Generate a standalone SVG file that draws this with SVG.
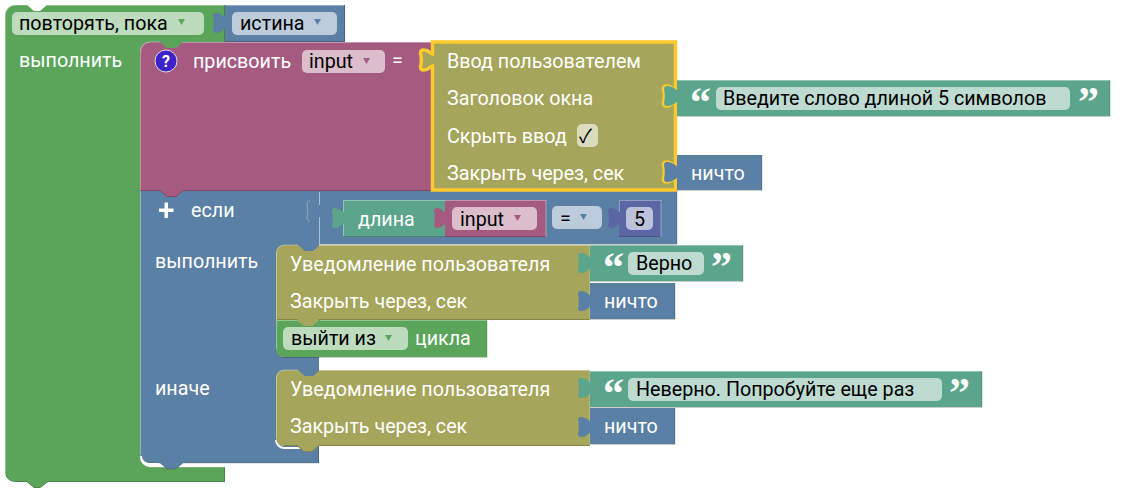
<svg xmlns="http://www.w3.org/2000/svg" width="1125" height="500" viewBox="0 0 1125 500">
<style>
text{font-family:Roboto,"Liberation Sans",sans-serif;font-size:19.700px;fill:#fff}
.f{fill:#000}
.q{font-family:"Liberation Serif",serif;font-weight:bold;font-size:42px}
.g{fill:#5BA55B}.b{fill:#5B80A5}.p{fill:#A55B80}.o{fill:#A5A55B}.t{fill:#5BA58C}.i{fill:#5B67A5}
.fg{fill:#BDDBBD}.fb{fill:#BDCCDB}.fp{fill:#DBBDCC}.ft{fill:#BDDBD1}.fi{fill:#BDC2DB}.fo{fill:#DBDBBD}
.lt{fill:none;stroke:#fff;stroke-opacity:.35;stroke-width:1}
.dk{fill:none;stroke:#000;stroke-opacity:.2;stroke-width:1}
</style>
<g id="repeat-until">
<path class="g" d="M5,15a10,10 0 0 1 10,-10H27l7,6h6l7,-6H225V42H150a10,10 0 0 0 -10,10V457a10,10 0 0 0 10,10H225V482H48l-8,6h-6l-7,-6H15a10,10 0 0 1 -10,-10Z"/>
<path class="lt" d="M5.500,472V15a10,10 0 0 1 10,-10H27M47,5.500H225M140.500,52V457a10,10 0 0 0 10,10H225"/>
<path class="dk" d="M224.500,5V42M224.500,467V481.500H48l-8,6h-6l-7,-6H15a10,10 0 0 1 -9,-6"/>
<rect class="fg" x="12" y="12" width="192" height="23" rx="5"/>
<text class="f" x="19" y="30">повторять, пока</text>
<path class="g" d="M178,19h7l-3.500,6z"/>
<text x="19" y="66.500">выполнить</text>
</g>
<g id="true-value">
<path class="b" d="M225,5H345V42H225V29c-2,0 -3,4 -9,4c-2,0 -3,-1 -3,-3c1,-4 1,-10 0,-14c0,-2 1,-3 3,-3c6,0 7,4 9,4Z"/>
<path class="lt" d="M226,5.500H344"/><path class="dk" d="M344.500,5V41.500H225"/>
<rect class="fb" x="232" y="12" width="105" height="23" rx="5"/>
<text class="f" x="240" y="30">истина</text>
<path class="b" d="M314,19h7l-3.500,6z"/>
</g>
<g id="if-else">
<path class="b" d="M140,191H319V253H276V349a8,8 0 0 0 8,8H319V376H276V438a8,8 0 0 0 8,8H319V463H183l-7,6h-9l-7,-6H148a8,8 0 0 1 -8,-8Z"/>
<path class="lt" d="M140.500,455V191M276.500,253V349M276.500,376V438"/>
<path class="dk" d="M318.500,446V463H183l-7,6h-9l-7,-6H148"/>
<path d="M276,440a8,8 0 0 0 8,8H300" fill="none" stroke="#fff" stroke-width="2"/>
<path d="M141,456a8,8 0 0 0 8,8H158" fill="none" stroke="#fff" stroke-width="2"/>
<text x="191" y="216.500">если</text>
<path d="M159,208.500h5.500v-6h3.500v6h5.500v3.500h-5.500v6h-3.500v-6h-5.500Z" fill="#fff"/>
<text x="155" y="268">выполнить</text>
<text x="155" y="395">иначе</text>
</g>
<g id="compare">
<path class="b" d="M319,191H677V244H319V217c-2,0 -3,4 -9,4c-2,0 -3,-1 -3,-3c1,-4 1,-10 0,-14c0,-2 1,-3 3,-3c6,0 7,4 9,4Z"/>
<path d="M319.500,192V205M319.500,217V245" fill="none" stroke="#fff" stroke-opacity=".5"/>
<path d="M310,201c-2,0 -3,1 -3,3c1,4 1,10 0,14c0,2 1,3 3,3" fill="none" stroke="#fff" stroke-opacity=".3"/>
<path d="M677,191V244M319,244.500H677" class="dk"/>
<rect class="fb" x="552" y="206" width="50" height="23" rx="5"/>
<text class="f" x="560" y="225">=</text>
<path class="b" d="M580,214h7l-3.500,6z"/>
</g>
<g id="length">
<path class="t" d="M343,200H445V237H343V224c-2,0 -3,4 -8,4c-2,0 -3,-1 -3,-3c1,-4 1,-10 0,-14c0,-2 1,-3 3,-3c5,0 6,4 8,4Z"/>
<path class="lt" d="M343.500,212V200.500H445M343.500,224V236.500"/><path class="dk" d="M343,236.500H445"/>
<text x="358" y="226">длина</text>
</g>
<g id="input-var">
<path class="p" d="M445,200H546V237H445V224c-2,0 -3,4 -8,4c-2,0 -3,-1 -3,-3c1,-4 1,-10 0,-14c0,-2 1,-3 3,-3c5,0 6,4 8,4Z"/>
<path class="lt" d="M445,200.500H546M546,200V237"/><path class="dk" d="M445,236.500H546"/>
<rect class="fp" x="452" y="207" width="85" height="23" rx="5"/>
<text class="f" x="460" y="226">input</text>
<path class="p" d="M514,215h7l-3.500,6z"/>
</g>
<g id="num-5">
<path class="i" d="M619,200H661V237H619V224c-2,0 -3,4 -8,4c-2,0 -3,-1 -3,-3c1,-4 1,-10 0,-14c0,-2 1,-3 3,-3c5,0 6,4 8,4Z"/>
<path class="lt" d="M619.500,212V200.500H661M661,200V237"/><path class="dk" d="M619,236.500H661"/>
<rect class="fi" x="626" y="207" width="27" height="23" rx="5"/>
<text class="f" x="634" y="226">5</text>
</g>
<g id="assign">
<path class="p" d="M150,42H432V191H183l-7,6h-9l-7,-6H140V52a10,10 0 0 1 10,-10Z"/>
<path class="lt" d="M140.500,190V52a10,10 0 0 1 10,-10H160M182,42.500H432"/>
<path class="dk" d="M141,190.500H160l7,6h9l7,-6H432"/>
<path d="M160,42l7,6h9l7,-6Z" class="g"/>
<circle cx="166" cy="61" r="11" fill="#3D22C9" stroke="#DDD" stroke-width="1"/>
<text x="166" y="67" text-anchor="middle" style="font-size:16px;font-weight:bold">?</text>
<text x="193" y="68">присвоить</text>
<rect class="fp" x="302" y="50" width="83" height="23" rx="5"/>
<text class="f" x="309" y="68">input</text>
<path class="p" d="M363,58h7l-3.500,6z"/>
<text x="392" y="67">=</text>
</g>
<g id="user-input">
<path class="o" stroke="#FFC82B" stroke-width="3.500" d="M432.500,42H675.500V90c-2,0 -3,-4 -9,-4c-2,0 -3,1 -3,3c1,4 1,10 0,14c0,2 1,3 3,3c6,0 7,-4 9,-4V166c-2,0 -3,-4 -9,-4c-2,0 -3,1 -3,3c1,4 1,10 0,14c0,2 1,3 3,3c6,0 7,-4 9,-4V190H432.500V66c-2,0 -3,4 -9,4c-2,0 -3,-1 -3,-3c1,-4 1,-10 0,-14c0,-2 1,-3 3,-3c6,0 7,4 9,4Z"/>
<text x="447" y="68">Ввод пользователем</text>
<text x="447" y="105">Заголовок окна</text>
<text x="447" y="143">Скрыть ввод</text>
<rect class="fo" x="577" y="124" width="21" height="23" rx="5"/>
<text class="f" x="579" y="143" style="font-family:'Noto Sans CJK SC','DejaVu Sans',sans-serif;font-size:19px">✓</text>
<text x="447" y="180">Закрыть через, сек</text>
</g>
<g id="prompt-text">
<path class="t" d="M677,80H1110V116H677V102c-2,0 -3,4 -10,4c-2,0 -3,-1 -3,-3c1,-4 1,-10 0,-14c0,-2 1,-3 3,-3c7,0 8,4 10,4Z"/>
<path class="lt" d="M677,80.500H1110"/><path class="dk" d="M1110,80V116.500H677"/>
<text class="q" x="690" y="116">“</text>
<rect class="ft" x="716" y="87" width="354" height="23" rx="5"/>
<text class="f" x="723" y="105">Введите слово длиной 5 символов</text>
<text class="q" x="1078" y="116">”</text>
</g>
<g id="null-1">
<path class="b" d="M677,155H762V190H677V178c-2,0 -3,4 -10,4c-2,0 -3,-1 -3,-3c1,-4 1,-10 0,-14c0,-2 1,-3 3,-3c7,0 8,4 10,4Z"/>
<path class="dk" d="M762,155V190.500H677"/>
<text x="691" y="180">ничто</text>
</g>
<g id="notify-1">
<path class="o" d="M284,245H298l7,6h8l7,-6H590V320H319l-7,6h-8l-7,-6H276V253a8,8 0 0 1 8,-8Z"/>
<path class="lt" d="M276.500,320V253a8,8 0 0 1 8,-8H298M320,245.500H590M590,245V320"/>
<path class="dk" d="M277,319.500H297l7,6h8l7,-6H590"/>
<text x="290" y="271">Уведомление пользователя</text>
<text x="290" y="308">Закрыть через, сек</text>
</g>
<g id="true-text">
<path class="t" d="M590,245H743V281H590V269c-2,0 -3,4 -9,4c-2,0 -3,-1 -3,-3c1,-4 1,-10 0,-14c0,-2 1,-3 3,-3c6,0 7,4 9,4Z"/>
<path class="lt" d="M590,245.500H743"/><path class="dk" d="M743,245V281.500H590"/>
<text class="q" x="603" y="281">“</text>
<rect class="ft" x="628" y="252" width="76" height="23" rx="5"/>
<text class="f" x="636" y="270">Верно</text>
<text class="q" x="711" y="281">”</text>
</g>
<g id="null-2">
<path class="b" d="M590,283H675V319H590V307c-2,0 -3,4 -9,4c-2,0 -3,-1 -3,-3c1,-4 1,-10 0,-14c0,-2 1,-3 3,-3c6,0 7,4 9,4Z"/>
<path class="dk" d="M675,283V319.500H590"/>
<text x="604" y="308">ничто</text>
</g>
<g id="break">
<path class="g" d="M276,320H297l7,6h8l7,-6H487V357H284a8,8 0 0 1 -8,-8Z"/>
<path class="lt" d="M276.500,349V320.500H297M320,320.500H487"/><path class="dk" d="M487,320V357.500H284a8,8 0 0 1 -8,-8"/>
<path class="o" d="M297,320l7,6h8l7,-6Z"/>
<rect class="fg" x="283" y="327" width="125" height="23" rx="5"/>
<text class="f" x="291" y="345">выйти из</text>
<path class="g" d="M385,335h7l-3.500,6z"/>
<text x="415" y="345">цикла</text>
</g>
<g id="notify-2">
<path class="o" d="M284,370H298l7,6h8l7,-6H590V446H319l-7,6h-8l-7,-6H284a8,8 0 0 1 -8,-8V378a8,8 0 0 1 8,-8Z"/>
<path class="lt" d="M276.500,438V378a8,8 0 0 1 8,-8H298M320,370.500H590M590,370V446"/>
<path class="dk" d="M284,445.500H297l7,6h8l7,-6H590"/>
<text x="290" y="396">Уведомление пользователя</text>
<text x="290" y="433">Закрыть через, сек</text>
</g>
<g id="false-text">
<path class="t" d="M590,371H982V407H590V394c-2,0 -3,4 -9,4c-2,0 -3,-1 -3,-3c1,-4 1,-10 0,-14c0,-2 1,-3 3,-3c6,0 7,4 9,4Z"/>
<path class="lt" d="M590,371.500H982"/><path class="dk" d="M982,371V407.500H590"/>
<text class="q" x="603" y="407">“</text>
<rect class="ft" x="628" y="378" width="314" height="23" rx="5"/>
<text class="f" x="636" y="396">Неверно. Попробуйте еще раз</text>
<text class="q" x="949" y="407">”</text>
</g>
<g id="null-3">
<path class="b" d="M590,408H675V444H590V433c-2,0 -3,4 -9,4c-2,0 -3,-1 -3,-3c1,-4 1,-10 0,-14c0,-2 1,-3 3,-3c6,0 7,4 9,4Z"/>
<path class="dk" d="M675,408V444.500H590"/>
<text x="604" y="433">ничто</text>
</g>
</svg>
